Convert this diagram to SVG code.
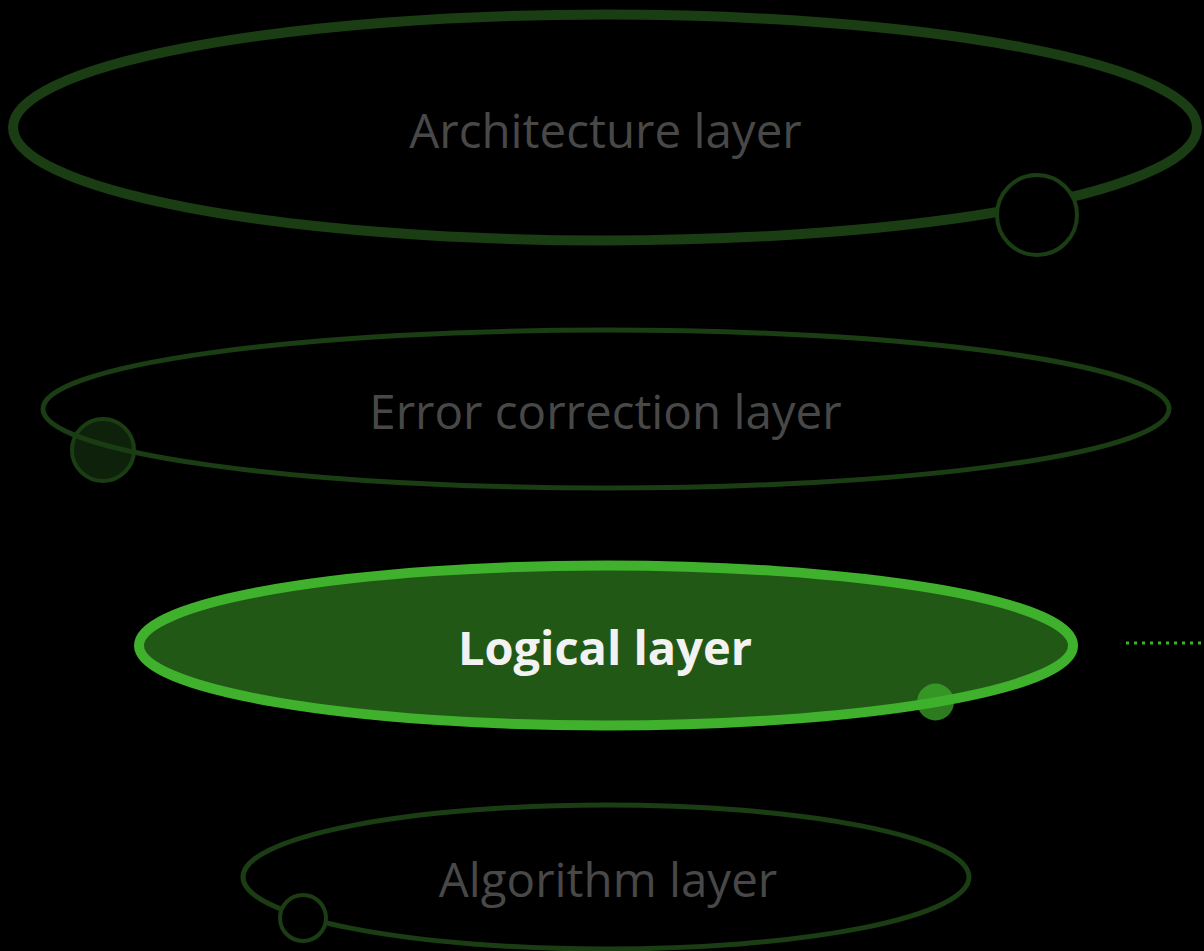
<svg xmlns="http://www.w3.org/2000/svg" width="1204" height="951" viewBox="0 0 1204 951">
<style>
.ring{fill:none;stroke:#1a3d13}
.lbl{font-family:"Open Sans","Noto Sans",sans-serif;font-size:47.5px;fill:#484848;text-anchor:middle}
.lblb{font-family:"Open Sans","Noto Sans",sans-serif;font-size:47px;font-weight:bold;fill:#f2f2f2;text-anchor:middle}
</style>
<rect width="1204" height="951" fill="#000"/>
<g id="architecture">
<ellipse class="ring" cx="605" cy="127.5" rx="592" ry="113" stroke-width="10"/>
<circle cx="1037" cy="215" r="40" fill="#000" stroke="#1a3d13" stroke-width="4"/>
<text class="lbl" x="605.5" y="148">Architecture layer</text>
</g>
<g id="error-correction">
<ellipse class="ring" cx="606" cy="409" rx="563" ry="79" stroke-width="5"/>
<circle cx="103" cy="450" r="31" fill="#1a3d13" fill-opacity="0.55" stroke="#1a3d13" stroke-width="4"/>
<text class="lbl" x="605.5" y="429">Error correction layer</text>
</g>
<g id="logical">
<ellipse cx="606" cy="645.5" rx="467" ry="80" fill="#225816" stroke="#3fb12c" stroke-width="10"/>
<circle cx="935.5" cy="702" r="18.5" fill="#3fb12c" fill-opacity="0.7"/>
<text class="lblb" x="605" y="665">Logical layer</text>
</g>
<g id="algorithm">
<ellipse class="ring" cx="606" cy="877" rx="363" ry="72" stroke-width="5"/>
<circle cx="303" cy="918" r="23" fill="#000" stroke="#1a3d13" stroke-width="4"/>
<text class="lbl" x="608" y="897">Algorithm layer</text>
</g>
<g id="connectors">
<line x1="1126" y1="643" x2="1204" y2="643" stroke="#3fb12c" stroke-width="3" stroke-dasharray="3 5"/>
</g>
</svg>
